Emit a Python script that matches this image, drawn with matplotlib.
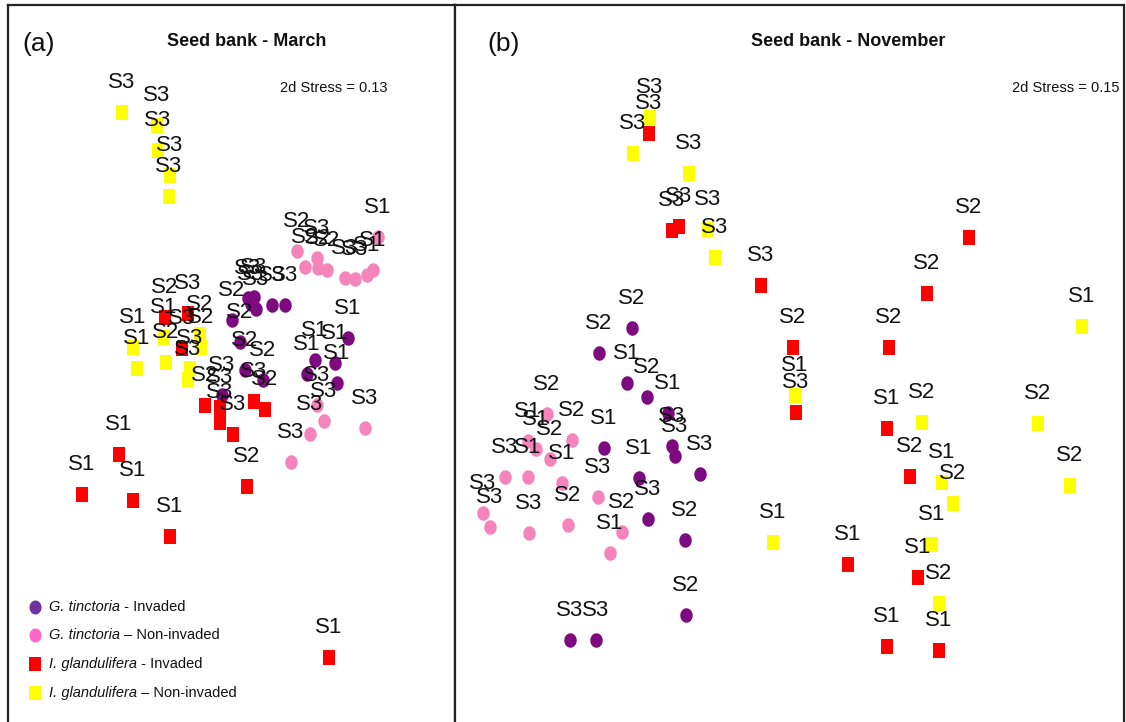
import numpy as np
import matplotlib
matplotlib.use("Agg")
import matplotlib.pyplot as plt
from matplotlib.patches import Rectangle
import warnings
warnings.filterwarnings("ignore")

# ---------------- data (ordination coordinates) -------------
# Panel (a) Seed bank - March
a_gti_x = [248, 254, 251, 256, 272, 285, 232, 240, 245, 263, 222, 348, 315, 307, 335, 337]
a_gti_y = [298, 297, 304, 309, 305, 305, 320, 342, 370, 380, 395, 338, 360, 374, 363, 383]
a_gti_l = ["S3", "S3", "S3", "S3", "S3", "S3", "S2", "S2", "S2", "S2", "S3", "S1", "S1", "S1", "S1", "S1"]

a_gtn_x = [297, 305, 317, 318, 327, 345, 355, 367, 373, 378, 317, 324, 310, 291, 365]
a_gtn_y = [251, 267, 258, 268, 270, 278, 279, 275, 270, 237, 405, 421, 434, 462, 428]
a_gtn_l = ["S2", "S2", "S3", "S2", "S2", "S3", "S3", "S1", "S1", "S1", "S3", "S3", "S3", "S3", "S3"]

a_igi_x = [165, 188, 182, 205, 220, 220, 233, 254, 265, 247, 119, 82, 133, 170, 329]
a_igi_y = [317, 313, 348, 405, 407, 422, 434, 401, 409, 486, 454, 494, 500, 536, 657]
a_igi_l = ["S2", "S3", "S3", "S2", "S3", "S3", "S3", "S3", "S2", "S2", "S1", "S1", "S1", "S1", "S1"]

a_ign_x = [122, 157, 158, 170, 169, 133, 137, 164, 166, 200, 201, 190, 188]
a_ign_y = [112, 125, 150, 175, 196, 347, 368, 337, 362, 334, 347, 368, 379]
a_ign_l = ["S3", "S3", "S3", "S3", "S3", "S1", "S1", "S1", "S2", "S2", "S2", "S3", "S3"]

# Panel (b) Seed bank - November
b_gti_x = [632, 599, 627, 647, 668, 672, 675, 700, 604, 639, 648, 685, 686, 570, 596]
b_gti_y = [328, 353, 383, 397, 413, 446, 456, 474, 448, 478, 519, 540, 615, 640, 640]
b_gti_l = ["S2", "S2", "S1", "S2", "S1", "S3", "S3", "S3", "S1", "S1", "S3", "S2", "S2", "S3", "S3"]

b_gtn_x = [547, 572, 528, 536, 550, 505, 528, 562, 598, 483, 490, 529, 568, 622, 610]
b_gtn_y = [414, 440, 441, 449, 459, 477, 477, 483, 497, 513, 527, 533, 525, 532, 553]
b_gtn_l = ["S2", "S2", "S1", "S1", "S2", "S3", "S1", "S1", "S3", "S3", "S3", "S3", "S2", "S2", "S1"]

b_igi_x = [649, 672, 679, 761, 796, 793, 889, 927, 969, 887, 910, 848, 918, 887, 939]
b_igi_y = [133, 230, 226, 285, 412, 347, 347, 293, 237, 428, 476, 564, 577, 646, 650]
b_igi_l = ["S3", "S3", "S3", "S3", "S3", "S2", "S2", "S2", "S2", "S1", "S2", "S1", "S1", "S1", "S1"]

b_ign_x = [650, 633, 689, 708, 715, 795, 1082, 922, 1038, 942, 953, 1070, 773, 932, 939]
b_ign_y = [117, 153, 173, 229, 257, 395, 326, 422, 423, 482, 503, 485, 542, 544, 603]
b_ign_l = ["S3", "S3", "S3", "S3", "S3", "S1", "S1", "S2", "S2", "S1", "S2", "S2", "S1", "S1", "S2"]

legend_species = ["G. tinctoria", "G. tinctoria", "I. glandulifera", "I. glandulifera"]
legend_status = [" - Invaded", " \u2013 Non-invaded", " - Invaded", " \u2013 Non-invaded"]

titles = ["Seed bank - March", "Seed bank - November"]
panel_tags = ["(a)", "(b)"]
stress = ["2d Stress = 0.13", "2d Stress = 0.15"]

# ---------------- styling ----------------
W, H = 1126, 722
fig = plt.figure(figsize=(W / 100, H / 100), dpi=100)
fig.patch.set_facecolor("white")

NARROW = ["Liberation Sans Narrow", "Liberation Sans", "DejaVu Sans"]

c_purple = "#7E0A80"
c_pink = "#F584BA"
c_red = "#FF0000"
c_yellow = "#FFFF00"
leg_purple = "#7030A0"
leg_pink = "#FF66CC"

sq = [(-0.4, -0.5), (0.4, -0.5), (0.4, 0.5), (-0.4, 0.5), (-0.4, -0.5)]
t = np.linspace(0, 2 * np.pi, 40)
ell = list(zip(0.43 * np.cos(t), 0.5 * np.sin(t)))

sq_size = (15 * 0.72) ** 2
ell_size = (14.5 * 0.72) ** 2

LEFT, MID, RIGHT, TOP, BOT = 8, 455, 1124, 5, 722


def make_ax(x0, x1):
    ax = fig.add_axes([x0 / W, 1 - BOT / H, (x1 - x0) / W, (BOT - TOP) / H])
    ax.set_xlim(x0, x1)
    ax.set_ylim(BOT, TOP)
    ax.set_xticks([])
    ax.set_yticks([])
    for s in ax.spines.values():
        s.set_linewidth(1.6)
        s.set_color("#222222")
    ax.spines["bottom"].set_visible(False)
    return ax


def draw_group(ax, xs, ys, labs, color, marker, size):
    ax.scatter(xs, ys, s=size, c=color, marker=marker, linewidths=0, zorder=2)
    for x, y, l in zip(xs, ys, labs):
        ax.annotate(l, (x, y), xytext=(0, 21), textcoords="offset points",
                    ha="center", va="center", fontsize=16, family=NARROW,
                    color="#111111", zorder=3)


axa = make_ax(LEFT, MID)
axb = make_ax(MID, RIGHT)

draw_group(axa, a_gti_x, a_gti_y, a_gti_l, c_purple, ell, ell_size)
draw_group(axa, a_gtn_x, a_gtn_y, a_gtn_l, c_pink, ell, ell_size)
draw_group(axa, a_igi_x, a_igi_y, a_igi_l, c_red, sq, sq_size)
draw_group(axa, a_ign_x, a_ign_y, a_ign_l, c_yellow, sq, sq_size)

draw_group(axb, b_gti_x, b_gti_y, b_gti_l, c_purple, ell, ell_size)
draw_group(axb, b_gtn_x, b_gtn_y, b_gtn_l, c_pink, ell, ell_size)
draw_group(axb, b_igi_x, b_igi_y, b_igi_l, c_red, sq, sq_size)
draw_group(axb, b_ign_x, b_ign_y, b_ign_l, c_yellow, sq, sq_size)

# titles, tags, stress
for ax, tag, title, st, tagx, titx, stx in [
        (axa, panel_tags[0], titles[0], stress[0], 22, 247, 388),
        (axb, panel_tags[1], titles[1], stress[1], 487, 848, 1120)]:
    ax.text(tagx, 44, tag, fontsize=19, family=["Liberation Sans", "DejaVu Sans"],
            ha="left", va="center", color="#111111")
    ax.text(titx, 42, title, fontsize=13, family=NARROW, fontweight="bold",
            ha="center", va="center", color="#111111")
    ax.text(stx, 88, st, fontsize=10.5, family=NARROW,
            ha="right", va="center", color="#111111")

# legend (panel a)
leg_colors = [leg_purple, leg_pink, c_red, c_yellow]
leg_markers = [ell, ell, sq, sq]
leg_y = [607, 635, 664, 693]
for col, mk, yy, sp, stt in zip(leg_colors, leg_markers, leg_y, legend_species, legend_status):
    axa.scatter([35], [yy], s=(14 * 0.72) ** 2, c=col, marker=mk, linewidths=0, zorder=2)
    ti = axa.text(49, yy, sp, fontsize=10.5, family=NARROW, style="italic",
                  ha="left", va="center", color="#111111")
    axa.annotate(stt, xy=(1, 0), xycoords=ti, va="bottom", ha="left",
                 fontsize=10.5, family=NARROW, color="#111111")

fig.savefig("out.png", dpi=100, facecolor="white")
